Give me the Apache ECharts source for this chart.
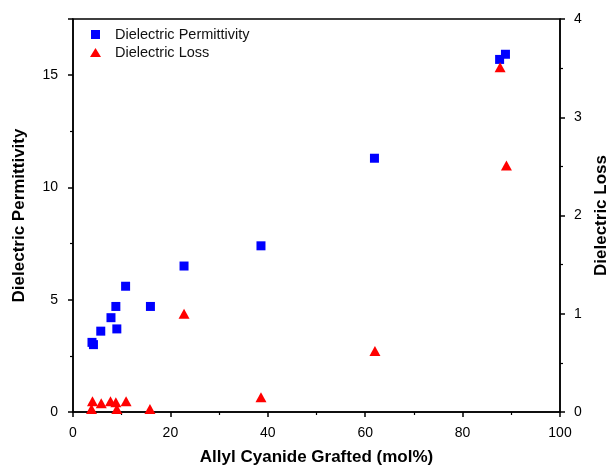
<!DOCTYPE html>
<html lang="en">
<head>
    <meta charset="UTF-8">
    <title>Dielectric Permittivity / Loss</title>
    <script src="https://cdn.jsdelivr.net/npm/echarts@6/dist/echarts.min.js"></script>
</head>
<style>
    body{ margin:0; background:#fff; }
    #chart{ width:609px; height:474px; }
</style>
<body>
<div id="chart"></div>
<script>
    // allyl cyanide grafted (mol%) and measured values
    var permX = [3.9, 4.2, 5.7, 7.8, 8.8, 9.0, 10.8, 15.9, 22.8, 38.6, 61.9, 87.6, 88.8];
    var permY = [3.1, 3.0, 3.6, 4.2, 4.7, 3.7, 5.6, 4.7, 6.5, 7.4, 11.3, 15.7, 15.93];
    var lossX = [4.0, 3.8, 5.8, 7.7, 8.8, 9.0, 10.9, 15.8, 22.8, 38.6, 62.0, 87.7, 89.0];
    var lossY = [0.11, 0.03, 0.09, 0.11, 0.10, 0.03, 0.11, 0.03, 1.0, 0.15, 0.62, 3.51, 2.51];

    function pairs(xs, ys){
        var out = [];
        for(var i = 0; i < xs.length; i++){
            out.push([xs[i], ys[i]]);
        }
        return out;
    }

    var font = '"Liberation Sans", Arial, sans-serif';
    var axisLine = {show: true, onZero: false, lineStyle: {color: '#000', width: 1.5}};
    var axisTick = {show: true, inside: false, length: 5, lineStyle: {color: '#000', width: 1.5}};
    var minorTick = {show: true, splitNumber: 2, length: 3, lineStyle: {color: '#000', width: 1.2}};
    var nameStyle = {color: '#000', fontSize: 17, fontWeight: 'bold', fontFamily: font};

    var chart = echarts.init(document.getElementById('chart'));
    var option = {
        animation: false,
        backgroundColor: '#fff',
        grid: {
            left: 73, right: 49, top: 19, bottom: 62,
            outerBoundsMode: 'none',
            show: true, borderColor: '#000', borderWidth: 1.5
        },
        legend: {
            left: 85, top: 22,
            orient: 'vertical',
            itemWidth: 11, itemHeight: 9, itemGap: 3,
            textStyle: {color: '#111', fontSize: 14.5, fontFamily: font, padding: [0, 0, 0, 9]},
            data: [
                {name: 'Dielectric Permittivity', icon: 'path://M0,0h1v1h-1z', itemStyle: {color: '#0000ff'}},
                {name: 'Dielectric Loss', icon: 'triangle', itemStyle: {color: '#ff0000'}}
            ]
        },
        xAxis: {
            type: 'value', min: 0, max: 100, interval: 20,
            name: 'Allyl Cyanide Grafted (mol%)',
            nameLocation: 'middle', nameGap: 37,
            nameTextStyle: nameStyle,
            axisLine: axisLine, axisTick: axisTick, minorTick: minorTick,
            axisLabel: {color: '#000', fontSize: 14, fontFamily: font, margin: 14},
            splitLine: {show: false}
        },
        yAxis: [{
            type: 'value', min: 0, max: 17.5, interval: 5,
            name: 'Dielectric Permittivity',
            nameLocation: 'middle', nameGap: 45,
            nameTextStyle: nameStyle,
            axisLine: axisLine, axisTick: axisTick, minorTick: minorTick,
            axisLabel: {color: '#000', fontSize: 14, fontFamily: font, margin: 15, showMaxLabel: false},
            splitLine: {show: false}
        }, {
            type: 'value', min: 0, max: 4, interval: 1,
            name: 'Dielectric Loss',
            nameLocation: 'middle', nameGap: 30,
            nameTextStyle: nameStyle,
            position: 'right',
            axisLine: axisLine, axisTick: axisTick, minorTick: minorTick,
            axisLabel: {color: '#000', fontSize: 14, fontFamily: font, margin: 14},
            splitLine: {show: false}
        }],
        series: [{
            name: 'Dielectric Permittivity',
            type: 'scatter',
            yAxisIndex: 0,
            symbol: 'rect',
            symbolSize: 9,
            itemStyle: {color: '#0000ff', opacity: 1},
            data: pairs(permX, permY)
        }, {
            name: 'Dielectric Loss',
            type: 'scatter',
            yAxisIndex: 1,
            symbol: 'triangle',
            symbolSize: [11, 10],
            itemStyle: {color: '#ff0000', opacity: 1},
            data: pairs(lossX, lossY)
        }]
    };
    chart.setOption(option);
</script>
</body>
</html>
